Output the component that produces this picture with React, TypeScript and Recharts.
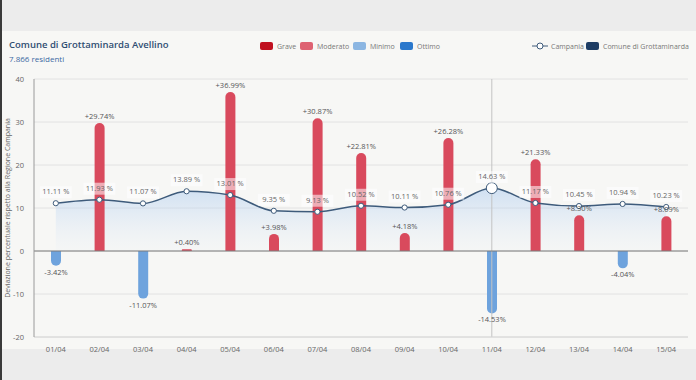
import React from 'react';
import {
  ComposedChart, Bar, Line, Area, XAxis, YAxis, CartesianGrid, ReferenceLine, LabelList, Cell,
} from 'recharts';

const categories = ['01/04', '02/04', '03/04', '04/04', '05/04', '06/04', '07/04', '08/04', '09/04', '10/04', '11/04', '12/04', '13/04', '14/04', '15/04'];
const comuneDeviation = [-3.42, 29.74, -11.07, 0.4, 36.99, 3.98, 30.87, 22.81, 4.18, 26.28, -14.53, 21.33, 8.3, -4.04, 8.09];
const campania = [11.11, 11.93, 11.07, 13.89, 13.01, 9.35, 9.13, 10.52, 10.11, 10.76, 14.63, 11.17, 10.45, 10.94, 10.23];
const yTicks = [-20, -10, 0, 10, 20, 30, 40];
const activeCategory = '11/04';

const data = categories.map((c, i) => ({ cat: c, dev: comuneDeviation[i], camp: campania[i] }));

const FONT = '"Open Sans", "Noto Sans", sans-serif';
const POS = '#d94a5d';
const NEG = '#6ea3dd';
const LINE = '#3e5b7b';

const BarLabel = (props: any) => {
  const { x, y, width, height, value } = props;
  const top = Math.min(y, y + height);
  const bottom = Math.max(y, y + height);
  const cx = x + width / 2;
  const txt = value >= 0 ? `+${value.toFixed(2)}%` : `${value.toFixed(2)}%`;
  const ty = value >= 0 ? top - 6 : bottom + 7;
  return (
    <text x={cx} y={ty} textAnchor="middle" dominantBaseline="middle" fontSize={7.5} fill="#555" fontFamily={FONT}>
      {txt}
    </text>
  );
};

const LineLabel = (props: any) => {
  const { x, y, value } = props;
  const txt = `${value.toFixed(2)} %`;
  const ty = y - 11;
  return (
    <g>
      <rect x={x - 16} y={ty - 6} width={32} height={12} fill="#ffffff" fillOpacity={0.55} />
      <text x={x} y={ty} textAnchor="middle" dominantBaseline="middle" fontSize={7.5} fill="#666" fontFamily={FONT}>
        {txt}
      </text>
    </g>
  );
};

const Dot = (props: any) => {
  const { cx, cy, payload } = props;
  const active = payload && payload.cat === activeCategory;
  return <circle cx={cx} cy={cy} r={active ? 5.5 : 2.6} fill="#fff" stroke={LINE} strokeWidth={1} />;
};

const YLabel = (props: any) => {
  const vb = props.viewBox || { x: 0, y: 79, height: 258 };
  const cy = vb.y + vb.height / 2;
  return (
    <text x={8} y={cy} transform={`rotate(-90 8 ${cy})`} textAnchor="middle" dominantBaseline="middle" fontSize={7} fill="#666" fontFamily={FONT}>
      Deviazione percentuale rispetto alla Regione Campania
    </text>
  );
};

const LegendSq = ({ x, color, label }: { x: number; color: string; label: string }) => (
  <div style={{ position: 'absolute', left: x, top: 41, display: 'flex', alignItems: 'center', height: 10 }}>
    <div style={{ width: 13, height: 8, background: color, borderRadius: 2, marginRight: 4 }} />
    <span style={{ fontSize: 7, color: '#777', fontFamily: FONT, whiteSpace: 'nowrap' }}>{label}</span>
  </div>
);

export default function App() {
  return (
    <div style={{ position: 'fixed', left: 0, top: 0, width: 696, height: 380, background: '#ececec', overflow: 'hidden' }}>
      <div style={{ position: 'absolute', left: 0, top: 31, width: 696, height: 318, background: '#f7f7f5' }} />
      <div style={{ position: 'absolute', left: 0, top: 0, width: 2, height: 380, background: '#3a3a3a' }} />
      <div style={{ position: 'absolute', left: 9, top: 38, fontSize: 9.5, fontWeight: 600, color: '#2f4e72', fontFamily: FONT, whiteSpace: 'nowrap' }}>
        Comune di Grottaminarda Avellino
      </div>
      <div style={{ position: 'absolute', left: 9, top: 53, fontSize: 8, color: '#3c6aa3', fontFamily: FONT, whiteSpace: 'nowrap' }}>
        7.866 residenti
      </div>
      <LegendSq x={260} color="#c0101f" label="Grave" />
      <LegendSq x={300} color="#de6272" label="Moderato" />
      <LegendSq x={353} color="#8cb6e2" label="Minimo" />
      <LegendSq x={400} color="#2b78cc" label="Ottimo" />
      <div style={{ position: 'absolute', left: 532, top: 41, display: 'flex', alignItems: 'center', height: 10 }}>
        <svg width={16} height={10} style={{ marginRight: 3 }}>
          <line x1={0} y1={5} x2={16} y2={5} stroke={LINE} strokeWidth={1} />
          <circle cx={8} cy={5} r={3} fill="#fff" stroke={LINE} strokeWidth={1} />
        </svg>
        <span style={{ fontSize: 7, color: '#777', fontFamily: FONT }}>Campania</span>
      </div>
      <LegendSq x={586} color="#1e3d64" label="Comune di Grottaminarda" />

      <div style={{ position: 'absolute', left: 0, top: 0 }}>
        <ComposedChart width={696} height={380} data={data} margin={{ top: 79, right: 8, bottom: 23, left: 0 }}>
          <defs>
            <linearGradient id="campFill" x1="0" y1="0" x2="0" y2="1">
              <stop offset="0%" stopColor="#a9c9ef" stopOpacity={0.85} />
              <stop offset="100%" stopColor="#dde9f7" stopOpacity={0.15} />
            </linearGradient>
          </defs>
          <CartesianGrid vertical={false} stroke="#e2e2e2" />
          <XAxis dataKey="cat" height={20} tickLine={false} axisLine={{ stroke: '#d6d6d6' }} tick={{ fontSize: 7.5, fill: '#666', fontFamily: FONT }} tickMargin={4} interval={0} />
          <YAxis width={34} domain={[-20, 40]} ticks={yTicks} tickLine={false} axisLine={{ stroke: '#9a9a9a' }} tick={{ fontSize: 7.5, fill: '#666', fontFamily: FONT }} tickMargin={4} label={<YLabel />} />
          <ReferenceLine x={activeCategory} stroke="#c4c4c4" strokeWidth={1} />
          <Area type="monotone" dataKey="camp" baseValue={0} stroke="none" fill="url(#campFill)" isAnimationActive={false} dot={false} activeDot={false} />
          <ReferenceLine y={0} stroke="#7a7a7a" strokeWidth={1} />
          <Bar dataKey="dev" barSize={10} radius={[5, 5, 0, 0]} isAnimationActive={false}>
            {data.map((d, i) => (
              <Cell key={i} fill={d.dev >= 0 ? POS : NEG} />
            ))}
            <LabelList dataKey="dev" content={<BarLabel />} />
          </Bar>
          <Line type="monotone" dataKey="camp" stroke={LINE} strokeWidth={1.5} dot={<Dot />} activeDot={false} isAnimationActive={false}>
            <LabelList dataKey="camp" content={<LineLabel />} />
          </Line>
        </ComposedChart>
      </div>
    </div>
  );
}
